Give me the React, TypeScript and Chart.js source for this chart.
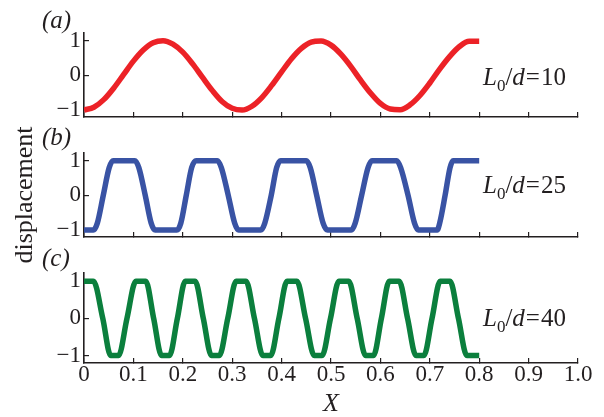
import React, { useEffect, useRef } from 'react';
import { Chart, registerables } from 'chart.js';

Chart.register(...registerables);

// ---------- data ----------
const X_TICKS = [0, 0.1, 0.2, 0.3, 0.4, 0.5, 0.6, 0.7, 0.8, 0.9, 1.0];
const Y_TICKS = [-1, 0, 1];

// (a) L0/d = 10
const A_X = [0, 0.02, 0.04, 0.06, 0.08, 0.10, 0.12, 0.14, 0.16, 0.18, 0.20, 0.22, 0.24, 0.26, 0.28, 0.30,
  0.32, 0.34, 0.36, 0.38, 0.40, 0.42, 0.44, 0.46, 0.48, 0.50, 0.52, 0.54, 0.56, 0.58, 0.60, 0.62,
  0.64, 0.66, 0.68, 0.70, 0.72, 0.74, 0.76, 0.78, 0.80];
const A_Y = [-1, -0.92, -0.70, -0.37, 0.02, 0.41, 0.73, 0.94, 1.0, 0.90, 0.67, 0.33, -0.06, -0.44, -0.76, -0.95,
  -1.0, -0.89, -0.64, -0.29, 0.10, 0.48, 0.78, 0.96, 0.99, 0.87, 0.61, 0.26, -0.14, -0.51, -0.81, -0.97,
  -0.99, -0.85, -0.58, -0.22, 0.18, 0.54, 0.83, 0.98, 0.98];

// (b) L0/d = 25
const B_X = [0, 0.019, 0.027, 0.039, 0.051, 0.059, 0.103, 0.111, 0.124, 0.136, 0.144, 0.188, 0.196, 0.207,
  0.218, 0.227, 0.270, 0.278, 0.292, 0.305, 0.313, 0.358, 0.366, 0.379, 0.390, 0.398, 0.450, 0.458, 0.471,
  0.484, 0.493, 0.541, 0.549, 0.562, 0.575, 0.583, 0.633, 0.641, 0.656, 0.669, 0.677, 0.715, 0.720, 0.731,
  0.741, 0.747, 0.800];
const B_Y = [-1, -1, -0.8, 0, 0.8, 1, 1, 0.8, 0, -0.8, -1, -1, -0.8, 0,
  0.8, 1, 1, 0.8, 0, -0.8, -1, -1, -0.8, 0, 0.8, 1, 1, 0.8, 0,
  -0.8, -1, -1, -0.8, 0, 0.8, 1, 1, 0.8, 0, -0.8, -1, -1, -0.8, 0,
  0.8, 1, 1];

// (c) L0/d = 40
const C_X = [0, 0.019, 0.038, 0.054, 0.070, 0.087, 0.105, 0.125, 0.141, 0.157, 0.173, 0.189, 0.205, 0.225,
  0.2415, 0.258, 0.274, 0.291, 0.308, 0.328, 0.345, 0.362, 0.378, 0.3945, 0.411, 0.431, 0.4485, 0.466,
  0.482, 0.499, 0.516, 0.536, 0.553, 0.570, 0.586, 0.602, 0.618, 0.638, 0.655, 0.672, 0.688, 0.7045,
  0.721, 0.741, 0.758, 0.775, 0.800];
const C_Y = [1, 1, 0, -1, -1, 0, 1, 1, 0, -1, -1, 0, 1, 1,
  0, -1, -1, 0, 1, 1, 0, -1, -1, 0, 1, 1, 0, -1,
  -1, 0, 1, 1, 0, -1, -1, 0, 1, 1, 0, -1, -1, 0,
  1, 1, 0, -1, -1];

const PANEL_LABELS = ['(a)', '(b)', '(c)'];
const RATIO_VALUES = ['10', '25', '40'];

// ---------- styles ----------
const W = 604;
const H = 417;
const AXIS = '#231f20';
const SERIF = '"Liberation Serif", "Times New Roman", serif';

interface PanelProps {
  xs: number[];
  ys: number[];
  color: string;
  top: number;
  bottom: number;
  showX: boolean;
}

function Panel({ xs, ys, color, top, bottom, showX }: PanelProps) {
  const ref = useRef<HTMLCanvasElement | null>(null);
  useEffect(() => {
    if (!ref.current) return;
    const chart = new Chart(ref.current, {
      type: 'line',
      data: {
        datasets: [
          {
            data: xs.map((x, i) => ({ x, y: ys[i] })),
            borderColor: color,
            borderWidth: 5.5,
            pointRadius: 0,
            fill: false,
            cubicInterpolationMode: 'monotone',
            borderJoinStyle: 'round',
          },
        ],
      },
      options: {
        animation: false,
        responsive: false,
        maintainAspectRatio: false,
        events: [],
        layout: { padding: { left: 0, right: 26, top, bottom: 0 } },
        plugins: { legend: { display: false }, tooltip: { enabled: false } },
        scales: {
          x: {
            type: 'linear',
            position: 'bottom',
            min: 0,
            max: 1,
            afterBuildTicks: (s: any) => {
              s.ticks = X_TICKS.map((v) => ({ value: v }));
            },
            afterFit: (s: any) => {
              s.height = H - bottom;
              s.paddingLeft = 0;
              s.paddingRight = 0;
            },
            grid: { drawOnChartArea: false, drawTicks: true, tickLength: -5, color: AXIS, lineWidth: 1.2 },
            border: { display: true, color: AXIS, width: 1.6 },
            ticks: {
              display: showX,
              padding: 3,
              autoSkip: false,
              maxRotation: 0,
              color: AXIS,
              font: { family: SERIF, size: 23 },
              callback: (v: any) => (Number(v) === 0 ? '0' : Number(v).toFixed(1)),
            },
            title: {
              display: showX,
              text: 'X',
              color: AXIS,
              font: { family: SERIF, size: 26, style: 'italic', lineHeight: 1 },
              padding: { top: 0, bottom: 0 },
            },
          },
          y: {
            type: 'linear',
            position: 'left',
            min: -1.2,
            max: 1.22,
            afterBuildTicks: (s: any) => {
              s.ticks = Y_TICKS.map((v) => ({ value: v }));
            },
            afterFit: (s: any) => {
              s.width = 84;
              s.paddingTop = 0;
              s.paddingBottom = 0;
            },
            grid: { drawOnChartArea: false, drawTicks: true, tickLength: -5, color: AXIS, lineWidth: 1.2 },
            border: { display: true, color: AXIS, width: 1.6 },
            ticks: {
              padding: 8,
              color: AXIS,
              font: { family: SERIF, size: 23 },
              callback: (v: any) => (Number(v) < 0 ? '\u2212' + Math.abs(Number(v)) : String(v)),
            },
          },
        },
      },
    });
    return () => chart.destroy();
  }, [xs, ys, color, top, bottom, showX]);
  return (
    <canvas
      ref={ref}
      width={W}
      height={H}
      style={{ position: 'absolute', left: 0, top: 0, width: W, height: H }}
    />
  );
}

const textBase: React.CSSProperties = {
  position: 'absolute',
  fontFamily: SERIF,
  color: AXIS,
  whiteSpace: 'nowrap',
  lineHeight: '25px',
  fontSize: 25,
};

function Ratio({ value, top }: { value: string; top: number }) {
  return (
    <div style={{ ...textBase, left: 483, top }}>
      <i>L</i>
      <span style={{ fontSize: 17, position: 'relative', top: 6 }}>0</span>
      /<i>d</i>
      <span style={{ margin: '0 1px' }}>=</span>
      {value}
    </div>
  );
}

export default function App() {
  return (
    <div style={{ position: 'absolute', left: 0, top: 0, width: W, height: H, background: '#fff', overflow: 'hidden' }}>
      <Panel xs={A_X} ys={A_Y} color="#ec2227" top={33} bottom={117} showX={false} />
      <Panel xs={B_X} ys={B_Y} color="#3953a4" top={153} bottom={237} showX={false} />
      <Panel xs={C_X} ys={C_Y} color="#0b7f3d" top={273} bottom={363} showX={true} />

      <div style={{ ...textBase, left: 42, top: 7, fontStyle: 'italic' }}>{PANEL_LABELS[0]}</div>
      <div style={{ ...textBase, left: 42, top: 124, fontStyle: 'italic' }}>{PANEL_LABELS[1]}</div>
      <div style={{ ...textBase, left: 42, top: 245, fontStyle: 'italic' }}>{PANEL_LABELS[2]}</div>

      <Ratio value={RATIO_VALUES[0]} top={64} />
      <Ratio value={RATIO_VALUES[1]} top={172} />
      <Ratio value={RATIO_VALUES[2]} top={305} />

      <div
        style={{
          ...textBase,
          fontSize: 26,
          lineHeight: '26px',
          left: 24,
          top: 195,
          transform: 'translate(-50%, -50%) rotate(-90deg)',
        }}
      >
        displacement
      </div>
    </div>
  );
}
